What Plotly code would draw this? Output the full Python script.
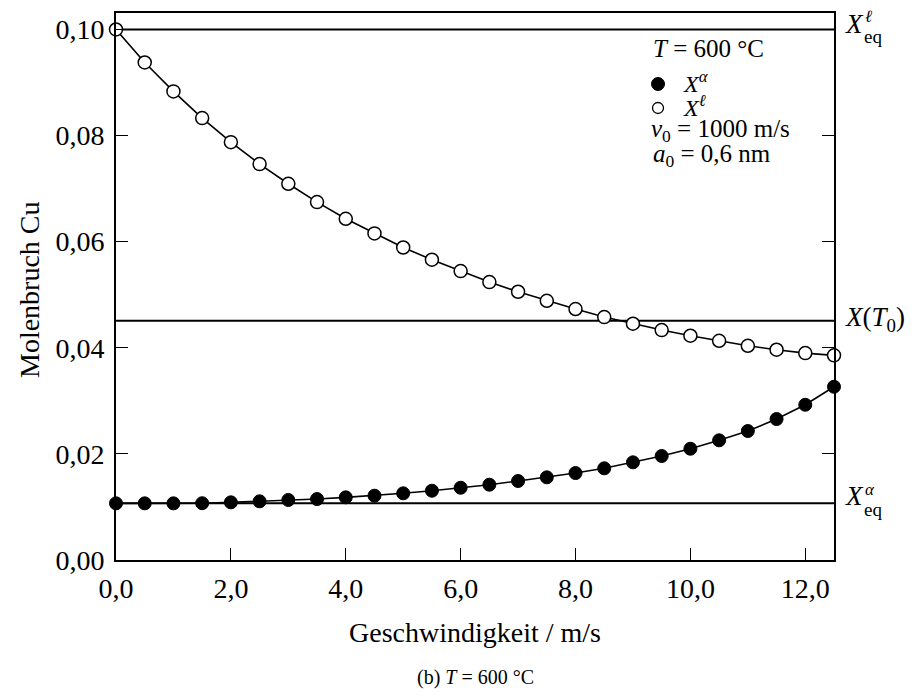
import plotly.graph_objects as go

# Geschwindigkeit (m/s)
velocity = [0.0, 0.5, 1.0, 1.5, 2.0, 2.5, 3.0, 3.5, 4.0, 4.5, 5.0, 5.5, 6.0,
            6.5, 7.0, 7.5, 8.0, 8.5, 9.0, 9.5, 10.0, 10.5, 11.0, 11.5, 12.0, 12.5]

# Molenbruch Cu in der festen Phase (alpha)
x_alpha = [0.01068, 0.01068, 0.01068, 0.01070, 0.01087, 0.01106, 0.01131, 0.01149,
           0.01181, 0.01212, 0.01257, 0.01306, 0.01362, 0.01419, 0.01489, 0.01558,
           0.01639, 0.01728, 0.01841, 0.01960, 0.02097, 0.02256, 0.02431, 0.02657,
           0.02926, 0.03266]

# Molenbruch Cu in der Schmelze (l)
x_liquid = [0.10000, 0.09378, 0.08832, 0.08329, 0.07876, 0.07462, 0.07091, 0.06746,
            0.06431, 0.06156, 0.05890, 0.05660, 0.05446, 0.05238, 0.05056, 0.04886,
            0.04730, 0.04579, 0.04453, 0.04334, 0.04227, 0.04132, 0.04038, 0.03963,
            0.03900, 0.03857]

# Referenzlinien
X_EQ_LIQUID = 0.1000
X_T0 = 0.0451
X_EQ_ALPHA = 0.01068

X_RANGE = [0.0, 12.5]
Y_RANGE = [0.0, 0.1031]

FONT = "Liberation Serif, DejaVu Serif, serif"
W, H = 922, 695
ML, MR, MT, MB = 116, 88, 13, 135
PW, PH = W - ML - MR, H - MT - MB


def xp(px):
    return (px - ML) / PW


def yp(py):
    return (H - MB - py) / PH


fig = go.Figure()

fig.add_trace(go.Scatter(
    x=velocity, y=x_liquid, mode="lines+markers", cliponaxis=False,
    line=dict(color="black", width=1.6),
    marker=dict(symbol="circle", size=13, color="white",
                line=dict(color="black", width=1.5)),
    showlegend=False,
))
fig.add_trace(go.Scatter(
    x=velocity, y=x_alpha, mode="lines+markers", cliponaxis=False,
    line=dict(color="black", width=1.6),
    marker=dict(symbol="circle", size=13, color="black",
                line=dict(color="black", width=1)),
    showlegend=False,
))

# horizontale Referenzlinien
for yv in (X_EQ_LIQUID, X_T0, X_EQ_ALPHA):
    fig.add_shape(type="line", xref="paper", x0=0, x1=1, yref="y", y0=yv, y1=yv,
                  line=dict(color="black", width=2), layer="below")

ann = []


def label(text, x, y, size, xref="paper", yref="paper", xanchor="left",
          xshift=0, yshift=0, **kw):
    ann.append(dict(text=text, x=x, y=y, xref=xref, yref=yref, xanchor=xanchor,
                    yanchor="middle", xshift=xshift, yshift=yshift, showarrow=False,
                    font=dict(family=FONT, size=size, color="black"), **kw))


# Beschriftung rechts
label("<i>X</i>", 1, X_EQ_LIQUID, 27, yref="y", xshift=9, yshift=5)
label("eq", 1, X_EQ_LIQUID, 19, yref="y", xshift=28, yshift=-7)
label("<i>ℓ</i>", 1, X_EQ_LIQUID, 17, yref="y", xshift=29, yshift=13)

label("<i>X</i>(<i>T</i><sub>0</sub>)", 1, X_T0, 27, yref="y", xshift=9, yshift=2)

label("<i>X</i>", 1, X_EQ_ALPHA, 27, yref="y", xshift=9, yshift=7)
label("eq", 1, X_EQ_ALPHA, 19, yref="y", xshift=28, yshift=-6)
label("<i>α</i>", 1, X_EQ_ALPHA, 17, yref="y", xshift=29, yshift=14)

# Legende
label("<i>T</i> = 600 °C", xp(651), yp(49), 25)
label("<i>X</i><sup><i>α</i></sup>", xp(681), yp(82), 24)
label("<i>X</i><sup><i>ℓ</i></sup>", xp(681), yp(106), 24)
label("<i>v</i><sub>0</sub> = 1000 m/s", xp(649), yp(131), 25)
label("<i>a</i><sub>0</sub> = 0,6 nm", xp(651), yp(155), 25)

fig.add_shape(type="circle", xref="paper", yref="paper", xsizemode="pixel",
              ysizemode="pixel", xanchor=xp(658), yanchor=yp(84),
              x0=-6.5, x1=6.5, y0=-6.5, y1=6.5, fillcolor="black",
              line=dict(color="black", width=1))
fig.add_shape(type="circle", xref="paper", yref="paper", xsizemode="pixel",
              ysizemode="pixel", xanchor=xp(658), yanchor=yp(108),
              x0=-5.5, x1=5.5, y0=-5.5, y1=5.5, fillcolor="white",
              line=dict(color="black", width=1.3))

# Achsentitel und Unterschrift
label("Molenbruch Cu", xp(30), yp(290), 28, xanchor="center", textangle=-90)
label("Geschwindigkeit / m/s", xp(475), yp(632), 28, xanchor="center")
label("(b) <i>T</i> = 600 °C", xp(475), yp(677), 20, xanchor="center")

fig.update_layout(
    width=W, height=H,
    margin=dict(l=ML, r=MR, t=MT, b=MB),
    paper_bgcolor="white", plot_bgcolor="white",
    separators=",.",
    font=dict(family=FONT, size=26, color="black"),
    annotations=ann,
    xaxis=dict(range=X_RANGE, dtick=2, tick0=0, tickformat=".1f",
               showgrid=False, zeroline=False, showline=True, linewidth=2,
               linecolor="black", mirror=True, ticks="inside", ticklen=12,
               tickwidth=1, tickcolor="black", ticklabelstandoff=2,
               tickfont=dict(family=FONT, size=28, color="black")),
    yaxis=dict(range=Y_RANGE, dtick=0.02, tick0=0, tickformat=".2f",
               showgrid=False, zeroline=False, showline=True, linewidth=2,
               linecolor="black", mirror="ticks", ticks="inside", ticklen=12,
               tickwidth=1, tickcolor="black", ticklabelstandoff=4,
               tickfont=dict(family=FONT, size=28, color="black")),
)

fig.write_html("out.html")
